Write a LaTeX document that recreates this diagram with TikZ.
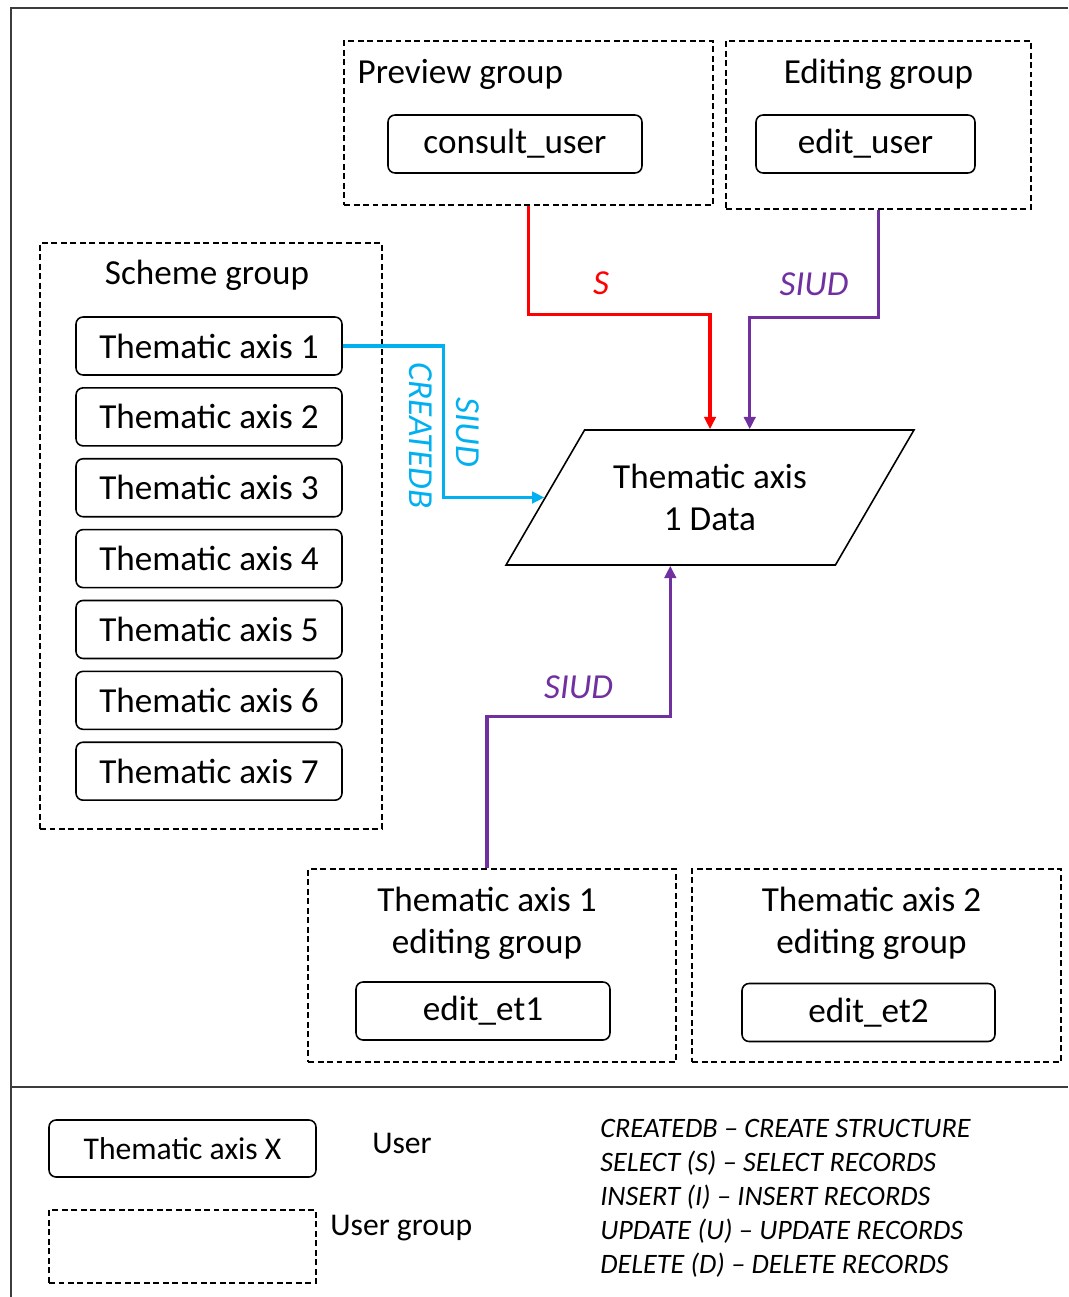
\documentclass[tikz,border=0pt]{standalone}
\usepackage{fontspec}
\setmainfont{Carlito}
\usetikzlibrary{positioning,shapes.geometric,arrows.meta,calc}

\definecolor{selred}{RGB}{255,0,0}
\definecolor{siudpurple}{RGB}{112,48,160}
\definecolor{createblue}{RGB}{0,176,240}
\definecolor{framegray}{RGB}{60,60,60}

\begin{document}
\begin{tikzpicture}[x=0.02cm, y=-0.02cm, node distance=0.226cm, >={Triangle[length=7pt,width=6.5pt]}, font=\fontsize{20}{24}\selectfont]

        % Styles
        \tikzstyle{user}=[rectangle, draw, rounded corners=4pt, line width=0.9pt, minimum width=5.32cm, minimum height=1.16cm, inner sep=2pt]
        \tikzstyle{group}=[rectangle, draw, dash pattern=on 3.4pt off 2pt, line width=0.8pt, minimum width=7.38cm, minimum height=3.86cm]
        \tikzstyle{title}=[inner sep=0pt, align=center]
        \tikzstyle{data}=[trapezium, trapezium left angle=45, trapezium right angle=135, trapezium stretches body, draw, line width=0.9pt, align=center, minimum width=8.16cm, minimum height=2.7cm]
        \tikzstyle{flow}=[->, line width=1.8pt]
        \tikzstyle{lbl}=[font=\fontsize{20}{24}\selectfont\itshape]
        \tikzstyle{legend}=[font=\fontsize{18}{22}\selectfont]

        \useasboundingbox (0,0) rectangle (1068,1297);

        % Cadre
        \draw[line width=1.2pt, framegray] (1068,8) -- (11,8) -- (11,1297);
        \draw[line width=1.2pt, framegray] (11,1087) -- (1068,1087);

        % Groupes
        \node[group, minimum height=3.28cm] (prev) at (528.5,123) {};
        \node[group, minimum width=6.1cm, minimum height=3.36cm] (edit) at (878.5,125) {};
        \node[group, minimum width=6.84cm, minimum height=11.72cm] (scheme) at (211,536) {};
        \node[group, minimum width=7.36cm] (g1) at (492,965.5) {};
        \node[group] (g2) at (876.5,965.5) {};

        \node[title, anchor=west] at ($(prev.north west)+(14,34)$) {Preview group};
        \node[title] at ($(edit.north)+(0,34)$) {Editing group};
        \node[title] at ($(scheme.north)+(-4,33)$) {Scheme group};
        \node[title] at ($(g1.north)+(-5,55)$) {Thematic axis 1\\editing group};
        \node[title] at ($(g2.north)+(-5,55)$) {Thematic axis 2\\editing group};

        % Utilisateurs
        \node[user, minimum width=5.08cm] (consult) at (515,144) {consult\_user};
        \node[user, minimum width=4.38cm] (edituser) at (865.5,144) {edit\_user};
        \node[user, minimum width=5.08cm] (et1) at (483,1011) {edit\_et1};
        \node[user, minimum width=5.06cm] (et2) at (868.5,1012.5) {edit\_et2};

        \node[user] (ax1) at (209,346) {Thematic axis 1};
        \node[user, below=of ax1] (ax2) {Thematic axis 2};
        \node[user, below=of ax2] (ax3) {Thematic axis 3};
        \node[user, below=of ax3] (ax4) {Thematic axis 4};
        \node[user, below=of ax4] (ax5) {Thematic axis 5};
        \node[user, below=of ax5] (ax6) {Thematic axis 6};
        \node[user, below=of ax6] (ax7) {Thematic axis 7};

        % Données
        \node[data] (data) at (710,497.5) {Thematic axis\\1 Data};

        % Flèches
        \draw[flow, selred] (prev.south) |- node[lbl, above=7pt, pos=0.7] {S} ($(data.north)+(0,-115)$) -- (data.north);
        \draw[flow, siudpurple] (edit.south) |- node[lbl, above=8pt, pos=0.75] {SIUD} ($(data.top side)+(0,-112)$) -- (data.top side);
        \draw[flow, createblue] (ax1.east) -- ++(101,0)
            -- node[lbl, pos=0.57, rotate=-90, anchor=south, inner sep=0.6em] {SIUD}
               node[lbl, pos=0.59, rotate=-90, anchor=north, inner sep=0.55em] {CREATEDB} ++(0,151.5)
            -- (data.left side);
        \draw[flow, siudpurple] ([xshift=-0.1cm]g1.north) |- node[lbl, above=6pt, pos=0.75] {SIUD} ($(data.bottom side)+(0,151)$) -- (data.bottom side);

        % Légende
        \node[user, legend, minimum width=5.34cm, minimum height=1.14cm] (legu) at (182.5,1148.5) {Thematic axis X};
        \node[legend] (leguser) at (402,1143) {User};
        \node[group, minimum width=5.34cm, minimum height=1.46cm] (legg) at (182.5,1246.5) {};
        \node[legend, anchor=west, inner sep=0pt] (leggroup) at (330,1228) {User group};
        \node[anchor=west, inner sep=0pt, align=left, font=\fontsize{16}{19.3}\selectfont\itshape] (ops) at (600,1198) {CREATEDB -- CREATE STRUCTURE\\SELECT (S) -- SELECT RECORDS\\INSERT (I) -- INSERT RECORDS\\UPDATE (U) -- UPDATE RECORDS\\DELETE (D) -- DELETE RECORDS};

    \end{tikzpicture}
\end{document}
